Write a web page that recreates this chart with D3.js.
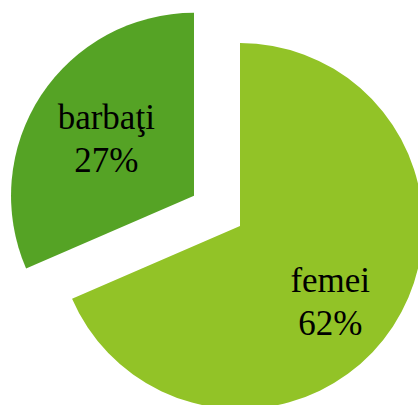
<!DOCTYPE html>
<html>
<head>
<meta charset="utf-8">
<script src="https://cdn.jsdelivr.net/npm/d3@7"></script>
<style>
    html, body { margin: 0; padding: 0; background: #fff; }
    svg { display: block; }
    .slice-label { font-family: "Liberation Serif", "Times New Roman", serif; font-size: 35px; fill: #000; }
</style>
</head>
<body>
<div id="chart"></div>
<script>
// slices, clockwise from 12 o'clock
const categories = ['femei', 'barbaţi'];
const shares = [68.5, 31.5];          // slice sizes as drawn
const percentLabels = ['62%', '27%']; // text shown on the slices
const colors = ['#92c327', '#55a325'];
const exploded = [false, true];

const width = 418;
const height = 405;
const radius = 183;
const explodeBy = 55;
const cx = 240;
const cy = 226;

const svg = d3.select('#chart')
    .append('svg')
    .attr('width', width)
    .attr('height', height);

const chart = svg.append('g')
    .attr('transform', `translate(${cx},${cy})`);

const pie = d3.pie()
    .sort(null)
    .value(d => d.share);

const arc = d3.arc()
    .innerRadius(0)
    .outerRadius(radius);

const data = categories.map((c, i) => ({
    name: c,
    share: shares[i],
    label: percentLabels[i],
    color: colors[i],
    exploded: exploded[i]
}));

const arcs = pie(data);

// offset along the bisector for exploded slices
function sliceOffset(d, dist) {
    const mid = (d.startAngle + d.endAngle) / 2;
    return [Math.sin(mid) * dist, -Math.cos(mid) * dist];
}

const slices = chart.selectAll('.slice')
    .data(arcs)
    .enter()
    .append('g')
    .attr('class', 'slice')
    .attr('transform', d => {
        const [dx, dy] = d.data.exploded ? sliceOffset(d, explodeBy) : [0, 0];
        return `translate(${dx},${dy})`;
    });

slices.append('path')
    .attr('d', arc)
    .attr('fill', d => d.data.color);

// labels: name on top, percent below
const labels = slices.append('text')
    .attr('class', 'slice-label')
    .attr('text-anchor', 'middle')
    .attr('transform', d => {
        const dist = d.data.exploded ? 105 : 108;
        const [x, y] = sliceOffset(d, dist);
        const nudge = d.data.exploded ? 0 : 16;
        return `translate(${x},${y + nudge})`;
    });

labels.append('tspan')
    .attr('x', 0)
    .attr('y', -9)
    .text(d => d.data.name);

labels.append('tspan')
    .attr('x', 0)
    .attr('y', 34)
    .text(d => d.data.label);
</script>
</body>
</html>
